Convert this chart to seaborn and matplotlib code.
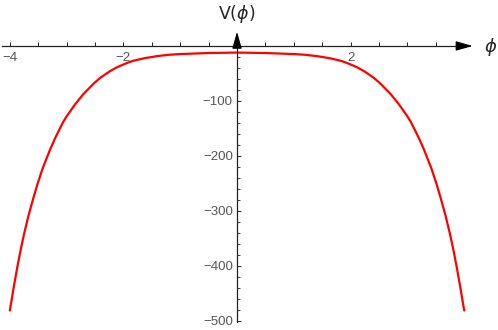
import matplotlib
matplotlib.use("Agg")
import matplotlib.pyplot as plt
from matplotlib.ticker import FixedLocator
import seaborn as sns

# values
phi_left = [-4.0, -3.93, -3.87, -3.81, -3.75, -3.67, -3.59, -3.51, -3.42, -3.29,
            -3.2, -3.06, -3.0, -2.85, -2.71, -2.53, -2.41, -2.24, -2.12, -1.94,
            -1.83, -1.62, -1.41, -1.2, -1.0, -0.5, 0.0]
v_left = [-481, -438, -403, -371, -342, -308, -278, -250, -222, -188,
          -167, -138, -128, -106, -88, -69, -58, -46, -39, -31,
          -27, -22, -18.5, -16, -14.7, -12.8, -12]
phi_right = [0.5, 1.0, 1.2, 1.41, 1.62, 1.83, 1.94, 2.12, 2.24, 2.41,
             2.53, 2.71, 2.85, 3.0, 3.06, 3.2, 3.29, 3.42, 3.51, 3.59,
             3.67, 3.75, 3.81, 3.87, 3.93, 4.0]
v_right = [-12.8, -14.7, -16, -18.5, -22, -27, -31, -39, -46, -58,
           -69, -88, -106, -128, -138, -167, -188, -222, -250, -278,
           -308, -342, -371, -403, -438, -481]

x_labels = [-4, -2, 2]
x_minor = [-3.5, -3, -2.5, -1.5, -1, -0.5, 0.5, 1, 1.5, 2.5, 3, 3.5]
y_labels = [-500, -400, -300, -200, -100]

phi = phi_left + phi_right
v = v_left + v_right

sns.set_style("white")
plt.rcParams["font.family"] = ["Liberation Sans", "DejaVu Sans"]

fig = plt.figure(figsize=(4.98, 3.30), dpi=100)
ax = fig.add_axes([0, 0, 1, 1])

sns.lineplot(x=phi, y=v, color="red", linewidth=1.6, ax=ax)

ax.set_xlim(-4.173, 4.595)
ax.set_ylim(-516.4, 83.6)

# axes through the origin
for side in ["top", "right"]:
    ax.spines[side].set_visible(False)
ax.spines["bottom"].set_position("zero")
ax.spines["left"].set_position("zero")
ax.spines["bottom"].set_bounds(-4.14, 4.0)
ax.spines["left"].set_bounds(-502, 10)
for side in ["bottom", "left"]:
    ax.spines[side].set_color("#222222")
    ax.spines[side].set_linewidth(0.9)

ax.xaxis.set_major_locator(FixedLocator(x_labels))
ax.xaxis.set_minor_locator(FixedLocator(x_minor))
ax.yaxis.set_major_locator(FixedLocator(y_labels))
ax.yaxis.set_minor_locator(FixedLocator([t for t in range(-480, 0, 20) if t % 100 != 0]))

ax.tick_params(axis="x", which="both", bottom=True, direction="in", length=3.2,
               width=0.7, color="#222222", labelsize=9.5, labelcolor="#555555", pad=4.5)
ax.tick_params(axis="y", which="major", left=True, direction="in", length=3,
               width=0.7, color="#222222", labelsize=9.5, labelcolor="#555555", pad=3)
ax.tick_params(axis="y", which="minor", left=True, direction="in", length=2,
               width=0.6, color="#222222")
ax.set_xlabel("")
ax.set_ylabel("")

# arrow heads
head = dict(arrowstyle="-|>,head_length=0.6,head_width=0.17", color="black",
            lw=0.9, mutation_scale=17, shrinkA=0, shrinkB=0)
ax.annotate("", xy=(4.15, 0), xytext=(3.9, 0), arrowprops=head)
ax.annotate("", xy=(0, 26), xytext=(0, 5), arrowprops=head)

ax.text(4.47, -2, r"$\phi$", fontsize=13, ha="center", va="center")
ax.text(0, 58, r"$\mathrm{V}(\phi)$", fontsize=12.5, ha="center", va="center")

plt.savefig("out.png", dpi=100)
